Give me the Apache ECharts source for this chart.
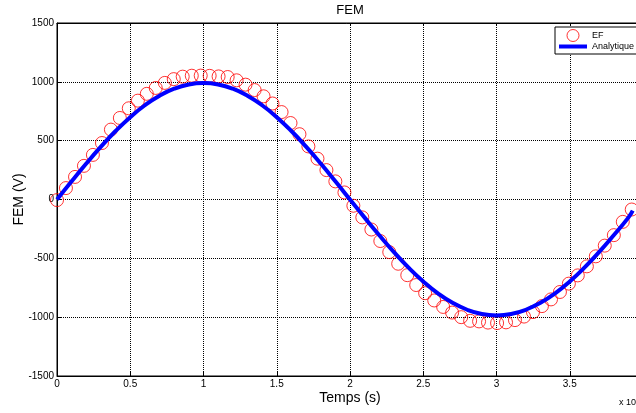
<!DOCTYPE html>
<html>
<head>
<meta charset="utf-8">
<script src="https://cdn.jsdelivr.net/npm/echarts@6/dist/echarts.min.js"></script>
<style>
html,body{margin:0;padding:0;background:#fff;}
#chart{width:636px;height:413px;}
</style>
</head>
<body>
<div id="chart"></div>
<script>
// Time (x 10^-3 s) of the EF (finite element) samples
var tEF = [0, 0.061, 0.123, 0.184, 0.245, 0.307, 0.368, 0.429, 0.490, 0.552, 0.613, 0.674, 0.736, 0.797, 0.858, 0.920, 0.981, 1.042, 1.103, 1.165, 1.226, 1.287, 1.349, 1.410, 1.471, 1.533, 1.594, 1.655, 1.716, 1.778, 1.839, 1.900, 1.962, 2.023, 2.084, 2.146, 2.207, 2.268, 2.329, 2.391, 2.452, 2.513, 2.575, 2.636, 2.697, 2.759, 2.820, 2.881, 2.942, 3.004, 3.065, 3.126, 3.188, 3.249, 3.310, 3.372, 3.433, 3.494, 3.555, 3.617, 3.678, 3.739, 3.801, 3.862, 3.923];
// EF values (V)
var vEF = [-5, 97, 192, 286, 379, 480, 594, 693, 775, 840, 898, 948, 991, 1023, 1044, 1052, 1053, 1051, 1046, 1041, 1013, 976, 930, 877, 816, 743, 650, 555, 451, 347, 250, 154, 60, -53, -152, -255, -353, -447, -546, -643, -727, -796, -858, -913, -961, -1000, -1031, -1036, -1046, -1050, -1044, -1025, -995, -957, -906, -849, -786, -715, -645, -568, -483, -392, -303, -190, -85];
// Analytical curve
var tLine = [0, 0.1, 0.2, 0.3, 0.4, 0.5, 0.6, 0.7, 0.8, 0.9, 1.0, 1.1, 1.2, 1.3, 1.4, 1.5, 1.6, 1.7, 1.8, 1.9, 2.0, 2.1, 2.2, 2.3, 2.4, 2.5, 2.6, 2.7, 2.8, 2.9, 3.0, 3.1, 3.2, 3.3, 3.4, 3.5, 3.6, 3.7, 3.8, 3.9, 3.93];
var vLine = [0, 155, 306, 449, 582, 700, 801, 882, 942, 978, 990, 978, 942, 882, 801, 700, 582, 449, 306, 155, 0, -154, -304, -447, -579, -696, -797, -878, -937, -973, -985, -973, -937, -878, -797, -696, -579, -447, -304, -154, -95];

var seriesNames = ['EF', 'Analytique'];
var titleText = 'FEM';
var xName = 'Temps (s)';
var yName = 'FEM (V)';
var xExponent = 'x 10';

var FONT = '"Liberation Sans", Arial, Helvetica, sans-serif';
var chart = echarts.init(document.getElementById('chart'), null, {renderer: 'canvas'});

var efData = tEF.map(function (t, i) { return [t, vEF[i]]; });
var lineData = tLine.map(function (t, i) { return [t, vLine[i]]; });

var gridLine = {show: true, lineStyle: {color: '#000', width: 1, type: [1, 1]}};

chart.setOption({
  animation: false,
  backgroundColor: '#fff',
  textStyle: {fontFamily: FONT, color: '#000'},
  title: {
    text: titleText, left: 350, top: 4, padding: 0, textAlign: 'center',
    textStyle: {fontSize: 13, fontWeight: 'normal', color: '#000', fontFamily: FONT}
  },
  grid: {
    left: 57, top: 23, right: -7, bottom: 37,
    show: true, borderColor: '#000', borderWidth: 1, backgroundColor: 'transparent',
    containLabel: false, outerBoundsMode: 'none'
  },
  legend: {
    orient: 'vertical', left: 555, top: 27,
    padding: [2, 70, 3, 4], itemGap: 0, itemWidth: 28, itemHeight: 12,
    backgroundColor: '#fff', borderColor: '#000', borderWidth: 1,
    textStyle: {fontSize: 9, color: '#000', fontFamily: FONT},
    data: [
      {name: seriesNames[0], icon: 'circle', itemStyle: {color: 'rgba(0,0,0,0)', borderColor: '#ff0000', borderWidth: 1}},
      {name: seriesNames[1], icon: 'path://M0,0 H28 V4 H0 Z', itemStyle: {color: '#0000ff', borderWidth: 0}}
    ]
  },
  xAxis: [{
    type: 'value', min: 0, max: 4, interval: 0.5,
    name: xName, nameLocation: 'middle', nameGap: 15, nameMoveOverlap: false,
    nameTextStyle: {fontSize: 14, color: '#000', fontFamily: FONT},
    axisLine: {show: true, onZero: false, lineStyle: {color: '#000', width: 1}},
    axisTick: {show: true, inside: true, length: 4, lineStyle: {color: '#000'}},
    axisLabel: {fontSize: 10, color: '#000', margin: 3, fontFamily: FONT},
    splitLine: gridLine
  }, {
    type: 'value', min: 0, max: 4, interval: 0.5, position: 'top',
    axisLine: {show: true, onZero: false, lineStyle: {color: '#000', width: 1}},
    axisTick: {show: true, inside: true, length: 3, lineStyle: {color: '#000'}},
    axisLabel: {show: false}, splitLine: {show: false}
  }],
  yAxis: {
    type: 'value', min: -1500, max: 1500, interval: 500,
    name: yName, nameLocation: 'middle', nameGap: 31, nameRotate: 90, nameMoveOverlap: false,
    nameTextStyle: {fontSize: 14, color: '#000', fontFamily: FONT},
    axisLine: {show: true, onZero: false, lineStyle: {color: '#000', width: 1}},
    axisTick: {show: true, inside: true, length: 4, lineStyle: {color: '#000'}},
    axisLabel: {fontSize: 10, color: '#000', margin: 3, fontFamily: FONT,
      formatter: function (v) { return String(v); }},
    splitLine: gridLine
  },
  series: [{
    name: seriesNames[0], type: 'scatter', xAxisIndex: 0, data: efData,
    symbol: 'circle', symbolSize: 13, z: 2,
    itemStyle: {color: 'rgba(0,0,0,0)', borderColor: '#ff0000', borderWidth: 1}
  }, {
    name: seriesNames[1], type: 'line', xAxisIndex: 0, data: lineData,
    symbol: 'none', showSymbol: false, smooth: true, z: 3,
    lineStyle: {color: '#0000ff', width: 4},
    itemStyle: {color: '#0000ff'}
  }],
  graphic: [{
    type: 'text', left: 619, top: 398,
    style: {text: xExponent, fontSize: 9, fill: '#000', fontFamily: FONT}
  }]
});
</script>
</body>
</html>
